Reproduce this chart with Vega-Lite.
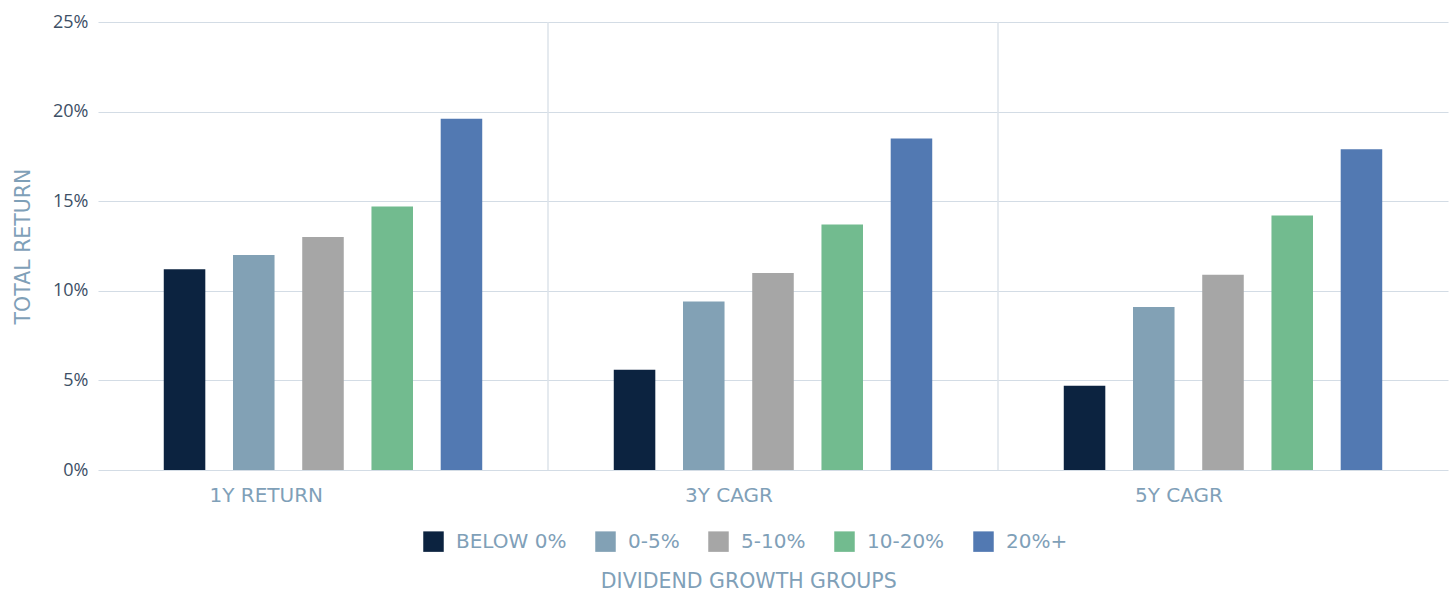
{
  "$schema": "https://vega.github.io/schema/vega-lite/v6.json",
  "autosize": "none",
  "width": 1350,
  "height": 448,
  "padding": {"left": 98, "top": 22, "right": 4, "bottom": 124},
  "background": "white",
  "datasets": {
    "bars": [
      {"metric": "1Y RETURN", "group": "BELOW 0%", "value": 11.2},
      {"metric": "1Y RETURN", "group": "0-5%", "value": 12.0},
      {"metric": "1Y RETURN", "group": "5-10%", "value": 13.0},
      {"metric": "1Y RETURN", "group": "10-20%", "value": 14.7},
      {"metric": "1Y RETURN", "group": "20%+", "value": 19.6},
      {"metric": "3Y CAGR", "group": "BELOW 0%", "value": 5.6},
      {"metric": "3Y CAGR", "group": "0-5%", "value": 9.4},
      {"metric": "3Y CAGR", "group": "5-10%", "value": 11.0},
      {"metric": "3Y CAGR", "group": "10-20%", "value": 13.7},
      {"metric": "3Y CAGR", "group": "20%+", "value": 18.5},
      {"metric": "5Y CAGR", "group": "BELOW 0%", "value": 4.7},
      {"metric": "5Y CAGR", "group": "0-5%", "value": 9.1},
      {"metric": "5Y CAGR", "group": "5-10%", "value": 10.9},
      {"metric": "5Y CAGR", "group": "10-20%", "value": 14.2},
      {"metric": "5Y CAGR", "group": "20%+", "value": 17.9}
    ],
    "separators": [
      {"metric": "3Y CAGR"},
      {"metric": "5Y CAGR"}
    ]
  },
  "title": {
    "text": "DIVIDEND GROWTH GROUPS",
    "orient": "bottom",
    "anchor": "middle",
    "frame": "bounds",
    "offset": 20,
    "dx": 18,
    "font": "DejaVu Sans",
    "fontSize": 20.5,
    "fontWeight": "normal",
    "color": "#7fa0b8"
  },
  "layer": [
    {
      "data": {"name": "separators"},
      "mark": {"type": "rule", "color": "#dde3ea", "strokeWidth": 1.5},
      "encoding": {
        "x": {"field": "metric", "type": "nominal", "bandPosition": 0}
      }
    },
    {
      "data": {"name": "bars"},
      "mark": {"type": "bar"},
      "encoding": {
        "x": {
          "field": "metric",
          "type": "nominal",
          "scale": {"domain": ["1Y RETURN", "3Y CAGR", "5Y CAGR"], "paddingInner": 0, "paddingOuter": 0},
          "axis": {
            "title": null,
            "labelAngle": 0,
            "labelFont": "DejaVu Sans",
            "labelFontSize": 20,
            "labelColor": "#7fa0b8",
            "labelPadding": 25,
            "ticks": false,
            "domain": false,
            "grid": false
          }
        },
        "xOffset": {
          "field": "group",
          "type": "nominal",
          "scale": {"domain": ["BELOW 0%", "0-5%", "5-10%", "10-20%", "20%+"], "paddingInner": 0.4, "paddingOuter": 0.95}
        },
        "y": {
          "field": "value",
          "type": "quantitative",
          "scale": {"domain": [0, 25], "nice": false},
          "axis": {
            "title": "TOTAL RETURN",
            "titleFont": "DejaVu Sans",
            "titleFontSize": 20.5,
            "titleFontWeight": "normal",
            "titleColor": "#7fa0b8",
            "titlePadding": 19,
            "values": [0, 5, 10, 15, 20, 25],
            "labelExpr": "datum.value + '%'",
            "labelFont": "Open Sans",
            "labelFontSize": 18,
            "labelColor": "#3d4f66",
            "labelPadding": 10,
            "ticks": false,
            "domain": false,
            "grid": true,
            "gridColor": "#d3dce5",
            "gridWidth": 1.2
          }
        },
        "color": {
          "field": "group",
          "type": "nominal",
          "scale": {
            "domain": ["BELOW 0%", "0-5%", "5-10%", "10-20%", "20%+"],
            "range": ["#0c2340", "#82a1b5", "#a6a6a6", "#72bb8f", "#5279b2"]
          },
          "legend": {
            "title": null,
            "orient": "none",
            "legendX": 325,
            "legendY": 509,
            "direction": "horizontal",
            "symbolType": "square",
            "symbolSize": 420,
            "symbolStrokeWidth": 0,
            "labelFont": "DejaVu Sans",
            "labelFontSize": 20,
            "labelColor": "#7fa0b8",
            "labelOffset": 12,
            "columnPadding": 28
          }
        }
      }
    }
  ],
  "config": {
    "view": {"stroke": null}
  }
}
